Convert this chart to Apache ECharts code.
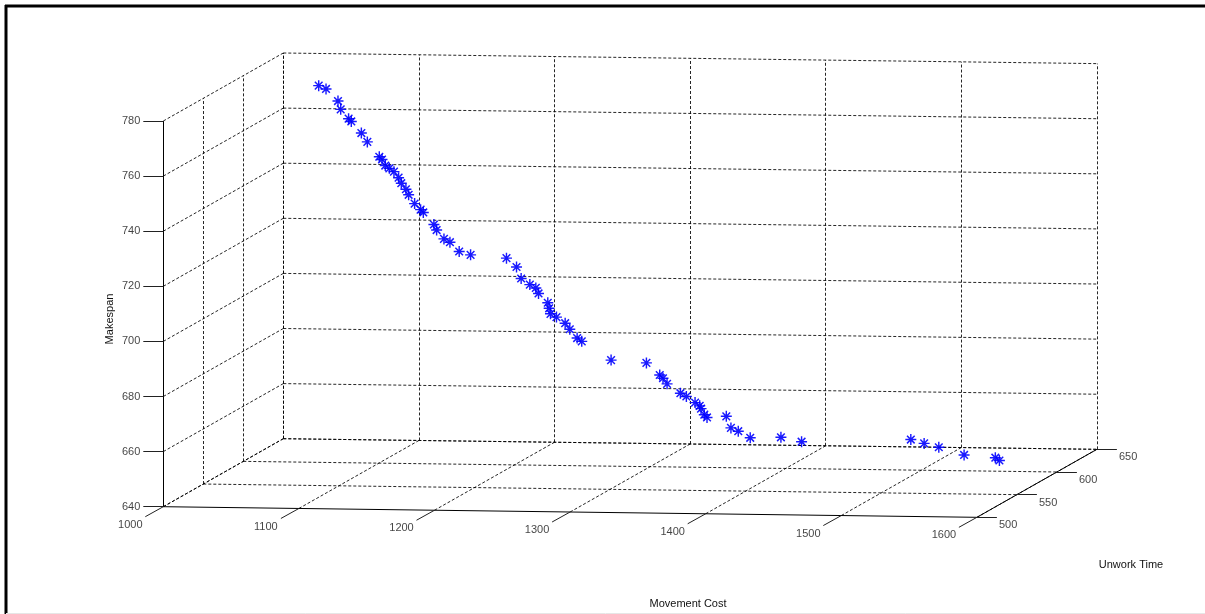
<!DOCTYPE html>
<html>
<head>
<meta charset="utf-8">
<script src="https://cdn.jsdelivr.net/npm/echarts@6/dist/echarts.min.js"></script>
<style>
html,body{margin:0;padding:0;background:#fff;}
#chart{width:1205px;height:614px;}
</style>
</head>
<body>
<div id="chart"></div>
<script>
// ---- data (Movement Cost, Unwork Time, Makespan) ----
const movementCost = [1032,1038,1048,1050,1057,1059,1067,1072,1082,1084,1087,1090,1094,1098,1100,1104,1106,1111,1116,1118,1127,1129,1135,1140,1148,1157,1187,1195,1199,1206,1211,1213,1221,1222,1223,1228,1235,1239,1245,1249,1273,1302,1313,1316,1319,1330,1335,1342,1346,1347,1350,1352,1368,1372,1378,1388,1413,1430,1520,1531,1543,1564,1590,1593];
const unworkTime = [640,639,637,637,635,635,634,633,631,631,630,630,629,628,628,627,627,626,625,625,623,623,622,621,619,618,612,611,610,609,608,608,606,606,606,605,604,603,602,601,597,592,590,589,589,587,586,585,584,584,583,583,580,579,578,576,572,569,553,551,549,545,540,540];
const makespan = [770,769,765,762,759,758,754,751,746,745,743,742,741,739,737,735,733,730,728,727,723,721,718,717,714,713,713,710,706,704,703,701,698,696,694,693,691,689,686,685,679,679,675,674,672,669,668,666,665,664,662,661,662,658,657,655,656,655,659,658,657,655,655,654];

const xTicks = [1000,1100,1200,1300,1400,1500,1600];
const yTicks = [500,550,600,650];
const zTicks = [640,660,680,700,720,740,760,780];

const xName = 'Movement Cost';
const yName = 'Unwork Time';
const zName = 'Makespan';

// ---- view (orthographic projection of the 3D box onto the page) ----
const X0 = xTicks[0], X1 = xTicks[xTicks.length-1];
const Y0 = yTicks[0], Y1 = yTicks[yTicks.length-1];
const Z0 = zTicks[0], Z1 = zTicks[zTicks.length-1];
const ORIG = [163.3, 506.7];
const EX = [1.356, 0.0177];
const EY = [0.8, -0.4533];
const EZ = [0, -2.755];
function P(x, y, z) {
  return [
    ORIG[0] + EX[0]*(x-X0) + EY[0]*(y-Y0) + EZ[0]*(z-Z0),
    ORIG[1] + EX[1]*(x-X0) + EY[1]*(y-Y0) + EZ[1]*(z-Z0)
  ];
}

// grid lines (back wall y=Y1, left wall x=X0, floor z=Z0)
const gridSegs = [];
xTicks.forEach(x => { gridSegs.push([P(x,Y1,Z0), P(x,Y1,Z1)]); gridSegs.push([P(x,Y0,Z0), P(x,Y1,Z0)]); });
zTicks.forEach(z => { gridSegs.push([P(X0,Y1,z), P(X1,Y1,z)]); gridSegs.push([P(X0,Y0,z), P(X0,Y1,z)]); });
yTicks.forEach(y => { if (y !== Y0) { gridSegs.push([P(X0,y,Z0), P(X0,y,Z1)]); gridSegs.push([P(X0,y,Z0), P(X1,y,Z0)]); } });

// axis lines
const axisSegs = [
  [P(X0,Y0,Z0), P(X1,Y0,Z0)],
  [P(X1,Y0,Z0), P(X1,Y1,Z0)],
  [P(X0,Y0,Z0), P(X0,Y0,Z1)]
];
// ticks
const tickSegs = [];
const zTickPts = zTicks.map(z => P(X0,Y0,z));
const xTickPts = xTicks.map(x => P(x,Y0,Z0));
const yTickPts = yTicks.map(y => P(X1,y,Z0));
zTickPts.forEach(p => tickSegs.push([[p[0]-20,p[1]], p]));
xTickPts.forEach(p => tickSegs.push([[p[0]-18,p[1]+10], p]));
yTickPts.forEach(p => tickSegs.push([p, [p[0]+20,p[1]]]));

const pts = movementCost.map((x,i) => P(x, unworkTime[i], makespan[i]));

const FONT = 'Liberation Sans, Arial, sans-serif';
const TXT = '#111';
const star = 'path://M0 8.7L20 8.7L20 11.3L0 11.3Z M8.7 0L11.3 0L11.3 20L8.7 20Z M2.1 4.0L4.0 2.1L17.9 16.0L16.0 17.9Z M16.0 2.1L17.9 4.0L4.0 17.9L2.1 16.0Z';

function labelSeries(points, texts, align, offset) {
  return {
    type: 'scatter', symbolSize: 1, silent: true,
    itemStyle: { color: 'rgba(0,0,0,0)' },
    data: points.map((p,i) => ({ value: p, name: String(texts[i]) })),
    label: { show: true, position: 'inside', formatter: '{b}', align: align, verticalAlign: 'middle',
             offset: offset, color: TXT, fontSize: 11, fontFamily: FONT },
    z: 5
  };
}

const chart = echarts.init(document.getElementById('chart'));
chart.setOption({
  animation: false,
  backgroundColor: '#fff',
  grid: { left: 0, top: 0, right: 0, bottom: 0 },
  xAxis: { type: 'value', min: 0, max: 1205, show: false },
  yAxis: { type: 'value', min: 0, max: 614, inverse: true, show: false },
  series: [
    { type: 'lines', coordinateSystem: 'cartesian2d', silent: true, z: 1,
      data: gridSegs.map(s => ({ coords: s })),
      lineStyle: { color: '#000', width: 1, type: [3,2], opacity: 0.85 } },
    { type: 'lines', coordinateSystem: 'cartesian2d', silent: true, z: 2,
      data: axisSegs.map(s => ({ coords: s })),
      lineStyle: { color: '#000', width: 1, type: 'solid', opacity: 1 } },
    { type: 'lines', coordinateSystem: 'cartesian2d', silent: true, z: 2,
      data: tickSegs.map(s => ({ coords: s })),
      lineStyle: { color: '#222', width: 1, type: 'solid', opacity: 1 } },
    labelSeries(zTickPts, zTicks, 'right', [-23, 0]),
    labelSeries(xTickPts, xTicks, 'center', [-33, 18]),
    labelSeries(yTickPts, yTicks, 'left', [22, 8]),
    { type: 'scatter', symbol: star, symbolSize: 11, silent: true, z: 4,
      data: pts,
      itemStyle: { color: '#0000ff', opacity: 0.9 } }
  ],
  graphic: [
    { type: 'text', x: 110, y: 319, rotation: Math.PI/2, style: { text: zName, x: 0, y: 0, align: 'center', verticalAlign: 'middle', fill: TXT, font: '11px ' + FONT } },
    { type: 'text', x: 688, y: 604, style: { text: xName, align: 'center', verticalAlign: 'middle', fill: TXT, font: '11px ' + FONT } },
    { type: 'text', x: 1131, y: 565, style: { text: yName, align: 'center', verticalAlign: 'middle', fill: TXT, font: '11px ' + FONT } },
    { type: 'line', shape: { x1: 5, y1: 6, x2: 1205, y2: 6 }, style: { stroke: '#000', lineWidth: 3 } },
    { type: 'line', shape: { x1: 6, y1: 5, x2: 6, y2: 614 }, style: { stroke: '#000', lineWidth: 3 } },
    { type: 'line', shape: { x1: 6, y1: 613.5, x2: 1205, y2: 613.5 }, style: { stroke: '#e6e6e6', lineWidth: 1 } }
  ]
});
</script>
</body>
</html>
